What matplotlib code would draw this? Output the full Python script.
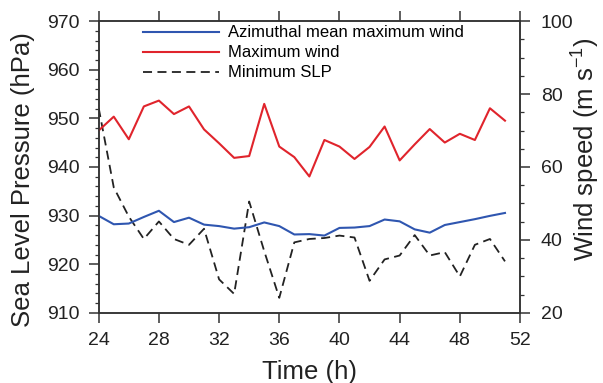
import numpy as np
import matplotlib
matplotlib.use("Agg")
import matplotlib.pyplot as plt
from matplotlib.ticker import MultipleLocator

plt.rcParams["font.family"] = ["Liberation Sans", "DejaVu Sans"]
plt.rcParams["mathtext.default"] = "regular"

time_h = np.arange(24, 52)
# azimuthal mean maximum wind (m s-1), right axis
az_mean_wind = [46.6, 44.3, 44.5, 46.3, 48.0, 44.9, 46.1, 44.2, 43.8, 43.1,
                43.5, 44.8, 43.8, 41.5, 41.6, 41.2, 43.3, 43.4, 43.8, 45.6,
                45.1, 42.9, 42.0, 44.1, 44.9, 45.7, 46.6, 47.4]
# maximum wind (m s-1), right axis
max_wind = [70.0, 73.8, 67.6, 76.6, 78.2, 74.5, 76.6, 70.3, 66.5, 62.5,
            63.0, 77.3, 65.6, 62.7, 57.4, 67.4, 65.6, 62.2, 65.5, 71.1,
            61.8, 66.2, 70.4, 66.7, 69.1, 67.4, 76.1, 72.7]
# minimum sea level pressure (hPa), left axis
min_slp = [952.1, 935.8, 929.8, 925.2, 928.8, 925.2, 924.0, 927.3, 916.9, 913.9,
           932.9, 922.7, 913.1, 924.5, 925.2, 925.4, 925.9, 925.5, 916.6, 921.0,
           921.8, 926.0, 921.8, 922.5, 917.5, 924.0, 925.2, 920.6]

fig = plt.figure(figsize=(6.03, 3.83), dpi=100)
ax = fig.add_axes([0.1637, 0.183, 0.6987, 0.762])
ax2 = ax.twinx()

l3, = ax.plot(time_h, min_slp, color="#222222", ls=(0, (5, 3)), lw=1.3, label="Minimum SLP")
l1, = ax2.plot(time_h, az_mean_wind, color="#2f56b0", lw=1.5, label="Azimuthal mean maximum wind")
l2, = ax2.plot(time_h, max_wind, color="#e0242c", lw=1.5, label="Maximum wind")

ax.set_xlim(24, 52)
ax.set_ylim(910, 970)
ax2.set_ylim(20, 100)
ax.xaxis.set_major_locator(MultipleLocator(4))
ax.yaxis.set_major_locator(MultipleLocator(10))
ax.yaxis.set_minor_locator(MultipleLocator(2))
ax2.yaxis.set_major_locator(MultipleLocator(20))
ax2.yaxis.set_minor_locator(MultipleLocator(5))

for a in (ax, ax2):
    for s in a.spines.values():
        s.set_linewidth(1.1)
        s.set_color("#333333")
ax.tick_params(axis="both", which="major", direction="out", length=7, width=1.1,
               labelsize=14, colors="#333333", labelcolor="#222222", top=True, pad=7)
ax.tick_params(axis="y", which="minor", direction="out", length=3, width=0.9, colors="#333333")
ax2.tick_params(axis="y", which="major", direction="out", length=7, width=1.1,
                labelsize=14, colors="#333333", labelcolor="#222222", pad=8)
ax2.tick_params(axis="y", which="minor", direction="out", length=3, width=0.9, colors="#333333")

ax.set_xlabel("Time (h)", fontsize=18.5, color="#222222", labelpad=7.5)
fig.text(0.018, 0.53, "Sea Level Pressure (hPa)", rotation=90, fontsize=18.5,
         color="#222222", ha="left", va="center")
fig.text(0.999, 0.61, r"Wind speed (m s$^{-1}$)", rotation=90, fontsize=18.5,
         color="#222222", ha="right", va="center")

ax.legend(handles=[l1, l2, l3], loc="upper left", bbox_to_anchor=(0.105, 0.985),
          frameon=False, fontsize=12, handlelength=4.55, handletextpad=0.55,
          labelspacing=0.3, borderaxespad=0, borderpad=0)

fig.savefig("out.png", dpi=100)
